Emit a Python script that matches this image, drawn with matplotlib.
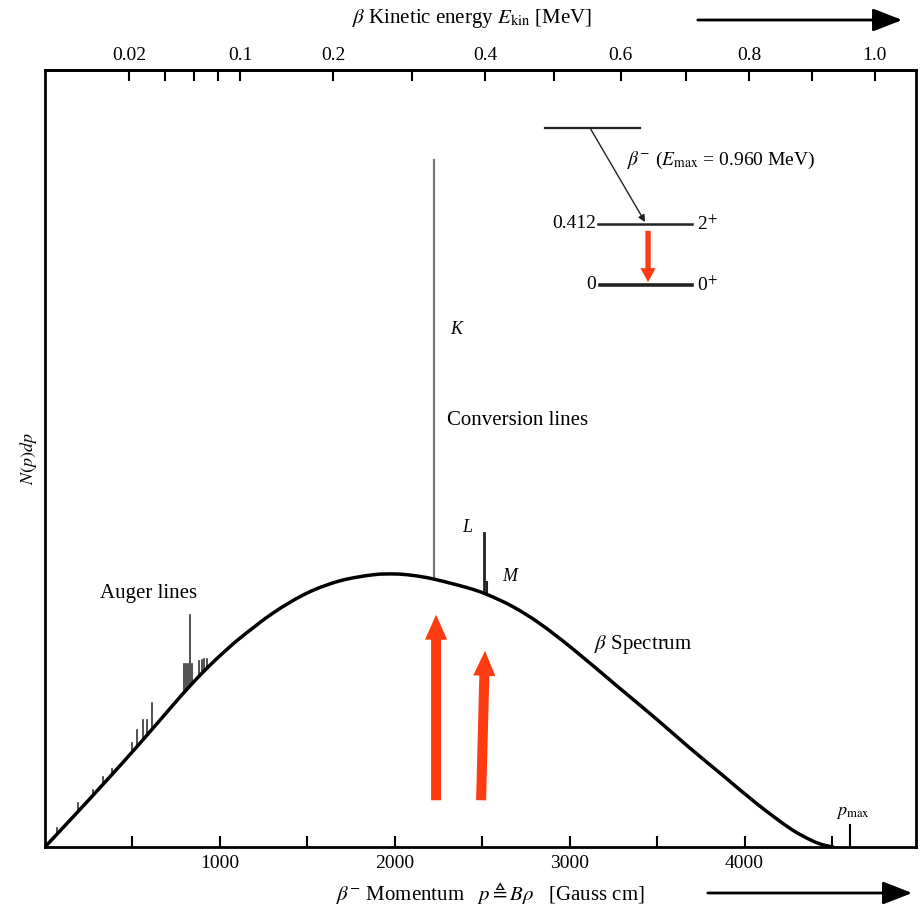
import numpy as np
import matplotlib
matplotlib.use("Agg")
import matplotlib.pyplot as plt
from matplotlib.patches import FancyArrowPatch, PathPatch
from matplotlib.path import Path

plt.rcParams['font.family'] = ['Liberation Serif', 'DejaVu Serif']
plt.rcParams['mathtext.fontset'] = 'stix'

# --- data -------------------------------------------------------------
# beta spectrum: momentum [Gauss cm], N(p)dp (relative, peak = 1)
p_curve = [0, 160, 354, 543, 732, 829, 926, 1020, 1115, 1304, 1498, 1687, 1875,
           2000, 2100, 2218, 2413, 2527, 2676, 2830, 3019, 3270, 3499, 3688,
           3876, 4071, 4260, 4380, 4448, 4506]
n_curve = [0.0, 0.11, 0.245, 0.38, 0.52, 0.59, 0.655, 0.712, 0.765, 0.857,
           0.93, 0.975, 0.997, 1.0, 0.995, 0.982, 0.95, 0.925, 0.88, 0.818,
           0.725, 0.59, 0.467, 0.362, 0.262, 0.158, 0.068, 0.025, 0.008, 0.0]

# conversion lines (momentum, top height)
conv_p = [2224, 2510, 2530]
conv_top = [2.516, 1.15, 0.97]
conv_names = ['K', 'L', 'M']

# Auger lines (momentum, top height)
auger_p = [69, 189, 274, 332, 383, 497, 526, 560, 583, 612,
           795, 805, 815, 829, 840, 880, 895, 910, 925]
auger_top = [0.07, 0.16, 0.21, 0.255, 0.285, 0.38, 0.43, 0.465, 0.465, 0.527,
             0.67, 0.67, 0.67, 0.85, 0.67, 0.68, 0.685, 0.69, 0.69]

p_max = 4600
bottom_major = [1000, 2000, 3000, 4000]
bottom_minor = [500, 1500, 2500, 3500, 4500]
top_ticks = [0.02, 0.04, 0.06, 0.08, 0.1, 0.2, 0.3, 0.4, 0.5, 0.6, 0.7, 0.8, 0.9, 1.0]
top_labels = ['0.02', '', '', '', '0.1', '0.2', '', '0.4', '', '0.6', '', '0.8', '', '1.0']

# --- conversion momentum (G cm) <-> kinetic energy (MeV) --------------
ME = 0.511
K = 2.998e-4


def p2E(p):
    p = np.asarray(p, dtype=float)
    return np.sqrt((p * K) ** 2 + ME ** 2) - ME


def E2p(E):
    E = np.asarray(E, dtype=float)
    return np.sqrt(np.clip((E + ME) ** 2 - ME ** 2, 0, None)) / K


def smooth_path(xs, ys):
    """Catmull-Rom curve through the read points, drawn as Bezier segments."""
    P = np.column_stack([xs, ys]).astype(float)
    n = len(P)
    verts = [P[0]]
    codes = [Path.MOVETO]
    for i in range(n - 1):
        p0 = P[i - 1] if i > 0 else P[i]
        p1, p2 = P[i], P[i + 1]
        p3 = P[i + 2] if i + 2 < n else P[i + 1]
        c1 = p1 + (p2 - p0) / 6.0
        c2 = p2 - (p3 - p1) / 6.0
        verts += [c1, c2, p2]
        codes += [Path.CURVE4] * 3
    return Path(verts, codes)


fig = plt.figure(figsize=(9.23, 9.22), dpi=100)
ax = fig.add_axes([45 / 923, 75 / 922, 871 / 923, 777 / 922])
ax.set_xlim(0, 4980)
ax.set_ylim(0, 2.846)

red = '#ff3b12'

ax.add_patch(PathPatch(smooth_path(p_curve, n_curve), facecolor='none',
                       edgecolor='black', lw=2.5, zorder=3, capstyle='round'))

# Auger lines
for p, t in zip(auger_p, auger_top):
    base = np.interp(p, p_curve, n_curve)
    ax.plot([p, p], [base, t], color='#333333', lw=1.2, zorder=2)

# conversion lines
ax.plot([conv_p[0]] * 2, [np.interp(conv_p[0], p_curve, n_curve), conv_top[0]],
        color='#777777', lw=1.6, zorder=2)
ax.plot([conv_p[1]] * 2, [np.interp(conv_p[1], p_curve, n_curve), conv_top[1]],
        color='#222222', lw=2.0, zorder=2)
ax.plot([conv_p[2]] * 2, [np.interp(conv_p[2], p_curve, n_curve), conv_top[2]],
        color='#222222', lw=1.5, zorder=2)

# p_max marker
ax.plot([p_max, p_max], [0, 0.08], color='black', lw=1.5)
ax.text(4520, 0.128, r'$p_{\mathrm{max}}$', fontsize=13, ha='left', va='center')

# labels
ax.text(2316, 1.894, 'K', fontsize=13, style='italic', ha='left', va='center')
ax.text(2298, 1.564, 'Conversion lines', fontsize=15, ha='left', va='center')
ax.text(2413, 1.172, 'L', fontsize=13, style='italic', ha='center', va='center')
ax.text(2659, 0.989, 'M', fontsize=13, style='italic', ha='center', va='center')
ax.text(314, 0.93, 'Auger lines', fontsize=15, ha='left', va='center')
ax.text(3139, 0.74, r'$\beta$ Spectrum', fontsize=15, ha='left', va='center')

# red arrows in the spectrum
for (x0, y0, x1, y1) in [(2236, 0.161, 2236, 0.861), (2493, 0.161, 2516, 0.729)]:
    ax.add_patch(FancyArrowPatch((x0, y0), (x1, y1),
                                 arrowstyle='simple,head_width=1.6,head_length=1.8,tail_width=0.72',
                                 mutation_scale=10, color=red, lw=0, zorder=5))

# level scheme
ax.plot([2859, 3402], [2.634, 2.634], color='#222222', lw=1.6)
ax.plot([3162, 3699], [2.282, 2.282], color='#222222', lw=1.8)
ax.plot([3173, 3699], [2.059, 2.059], color='#222222', lw=2.6)
ax.annotate('', xy=(3431, 2.289), xytext=(3116, 2.634),
            arrowprops=dict(arrowstyle='-|>', color='#222222', lw=1.0,
                            mutation_scale=10, shrinkA=0, shrinkB=0))
ax.text(3328, 2.516, r'$\beta^{-}$ ($E_{\mathrm{max}}$ = 0.960 MeV)', fontsize=14,
        ha='left', va='center')
ax.text(3150, 2.282, '0.412', fontsize=14, ha='right', va='center')
ax.text(3150, 2.059, '0', fontsize=14, ha='right', va='center')
ax.text(3728, 2.282, r'2$^{+}$', fontsize=14, ha='left', va='center')
ax.text(3728, 2.059, r'0$^{+}$', fontsize=14, ha='left', va='center')
ax.add_patch(FancyArrowPatch((3448, 2.267), (3448, 2.059),
                             arrowstyle='simple,head_width=1.1,head_length=1.0,tail_width=0.38',
                             mutation_scale=10, color=red, lw=0, zorder=5))

# axes styling
for s in ax.spines.values():
    s.set_linewidth(2.0)
ax.set_yticks([])
ax.set_xticks(bottom_major)
ax.set_xticks(bottom_minor, minor=True)
ax.tick_params(axis='x', which='both', direction='in', length=8, width=1.5,
               labelsize=14, pad=6)
ax.set_ylabel(r'$N(p)dp$', fontsize=13, labelpad=4)

sec = ax.secondary_xaxis('top', functions=(p2E, E2p))
sec.set_xticks(top_ticks)
sec.set_xticklabels(top_labels)
sec.tick_params(direction='in', length=8, width=1.5, labelsize=14, pad=4)
sec.spines['top'].set_linewidth(2.0)

# axis titles with arrows
fig.text(472 / 923, 1 - 18 / 922, r'$\beta$ Kinetic energy $E_{\mathrm{kin}}$ [MeV]',
         fontsize=15, ha='center', va='center')
fig.text(490 / 923, 1 - 893 / 922, r'$\beta^{-}$ Momentum   $p \triangleq B\rho$   [Gauss cm]',
         fontsize=15, ha='center', va='center')
for (x0, x1, y) in [(695, 905, 20), (705, 915, 893)]:
    fig.add_artist(FancyArrowPatch((x0 / 923, 1 - y / 922), (x1 / 923, 1 - y / 922),
                                   transform=fig.transFigure,
                                   arrowstyle='-|>,head_width=0.35,head_length=0.9',
                                   mutation_scale=20, color='black', lw=2.0))

fig.savefig('out.png', dpi=100)
